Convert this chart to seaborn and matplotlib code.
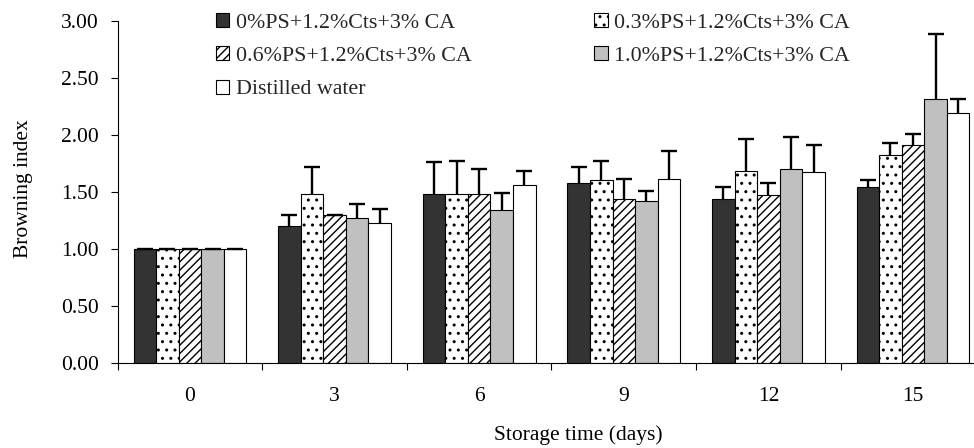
import matplotlib
matplotlib.use("Agg")
import matplotlib.pyplot as plt
import seaborn as sns
import pandas as pd

# Storage days on the category axis
days = ["0", "3", "6", "9", "12", "15"]

treatments = [
    "0%PS+1.2%Cts+3% CA",
    "0.3%PS+1.2%Cts+3% CA",
    "0.6%PS+1.2%Cts+3% CA",
    "1.0%PS+1.2%Cts+3% CA",
    "Distilled water",
]

# Mean browning index and upper error (SD) per treatment
ps00_mean = [1.00, 1.20, 1.48, 1.58, 1.44, 1.54]
ps00_err = [0.00, 0.10, 0.28, 0.14, 0.10, 0.06]

ps03_mean = [1.00, 1.48, 1.48, 1.60, 1.68, 1.82]
ps03_err = [0.00, 0.24, 0.29, 0.17, 0.28, 0.11]

ps06_mean = [1.00, 1.30, 1.48, 1.44, 1.47, 1.91]
ps06_err = [0.00, 0.00, 0.22, 0.17, 0.11, 0.10]

ps10_mean = [1.00, 1.27, 1.34, 1.42, 1.70, 2.31]
ps10_err = [0.00, 0.12, 0.15, 0.09, 0.28, 0.57]

water_mean = [1.00, 1.23, 1.56, 1.61, 1.67, 2.19]
water_err = [0.00, 0.12, 0.12, 0.25, 0.24, 0.12]

y_ticks = [0.0, 0.5, 1.0, 1.5, 2.0, 2.5, 3.0]

means = [ps00_mean, ps03_mean, ps06_mean, ps10_mean, water_mean]
errs = [ps00_err, ps03_err, ps06_err, ps10_err, water_err]

rows = []
for name, m in zip(treatments, means):
    for d, v in zip(days, m):
        rows.append({"day": d, "index": v, "treatment": name})
df = pd.DataFrame(rows)

sns.set_theme(style="ticks")
plt.rcParams["font.family"] = ["Liberation Serif", "DejaVu Serif"]
plt.rcParams["hatch.linewidth"] = 1.0

fills = ["#333333", "white", "white", "#c0c0c0", "white"]
hatches = [None, "..", "////", None, None]

fig = plt.figure(figsize=(9.74, 4.48), dpi=100)
ax = fig.add_axes([0.1208, 0.1897, 0.8908, 0.764])

sns.barplot(
    data=df, x="day", y="index", hue="treatment",
    order=days, hue_order=treatments, palette=fills,
    width=0.78, errorbar=None, legend=False,
    edgecolor="black", linewidth=0.8, saturation=1, ax=ax,
)

for cont, fc, ht, m, e in zip(ax.containers, fills, hatches, means, errs):
    xs = []
    for bar in cont:
        bar.set_facecolor(fc)
        bar.set_edgecolor("black")
        if ht:
            bar.set_hatch(ht)
        xs.append(bar.get_x() + bar.get_width() / 2)
    _, caps, _ = ax.errorbar(
        xs, m, yerr=[[0] * len(e), e], fmt="none", ecolor="black",
        elinewidth=1.7, capsize=5.5, capthick=1.7, zorder=5,
    )
    # keep only the upper caps
    if len(caps) == 2:
        caps[0].set_visible(False)

ax.set_ylim(0, 3.0)
ax.set_xlim(-0.5, len(days) - 0.5)
ax.set_yticks(y_ticks)
ax.set_yticklabels([f"{t:.2f}" for t in y_ticks])

# tick marks between groups, labels at group centres
ax.set_xticks([i - 0.5 for i in range(len(days) + 1)])
ax.set_xticklabels([])
ax.set_xticks(range(len(days)), minor=True)
ax.set_xticklabels(days, minor=True)
ax.tick_params(axis="x", which="major", direction="out", length=5, width=0.8, color="black")
ax.tick_params(axis="x", which="minor", length=0, pad=17, labelsize=15.5, labelcolor="black")
ax.tick_params(axis="y", direction="out", length=5, width=0.8, pad=8.5, labelsize=15.5,
               color="black", labelcolor="black")

sns.despine(ax=ax)
for s in ("left", "bottom"):
    ax.spines[s].set_color("black")
    ax.spines[s].set_linewidth(0.8)

ax.set_ylabel("Browning index", fontsize=15.5, color="black", va="center")
ax.yaxis.set_label_coords(-0.108, 0.51)
ax.set_xlabel("Storage time (days)", fontsize=15.5, color="black", va="baseline")
ax.xaxis.set_label_coords(0.531, -0.225)

order = [0, 2, 4, 1, 3]
ax.legend(
    [ax.containers[i] for i in order], [treatments[i] for i in order],
    ncol=2, loc="upper left", bbox_to_anchor=(216 / 974, 1 - 13 / 448),
    bbox_transform=fig.transFigure, frameon=False, borderpad=0, borderaxespad=0,
    handlelength=0.6, handleheight=0.6, handletextpad=0.3, columnspacing=5.6,
    labelspacing=0.62, fontsize=15.8,
)

fig.savefig("out.png", dpi=100, facecolor="white")
